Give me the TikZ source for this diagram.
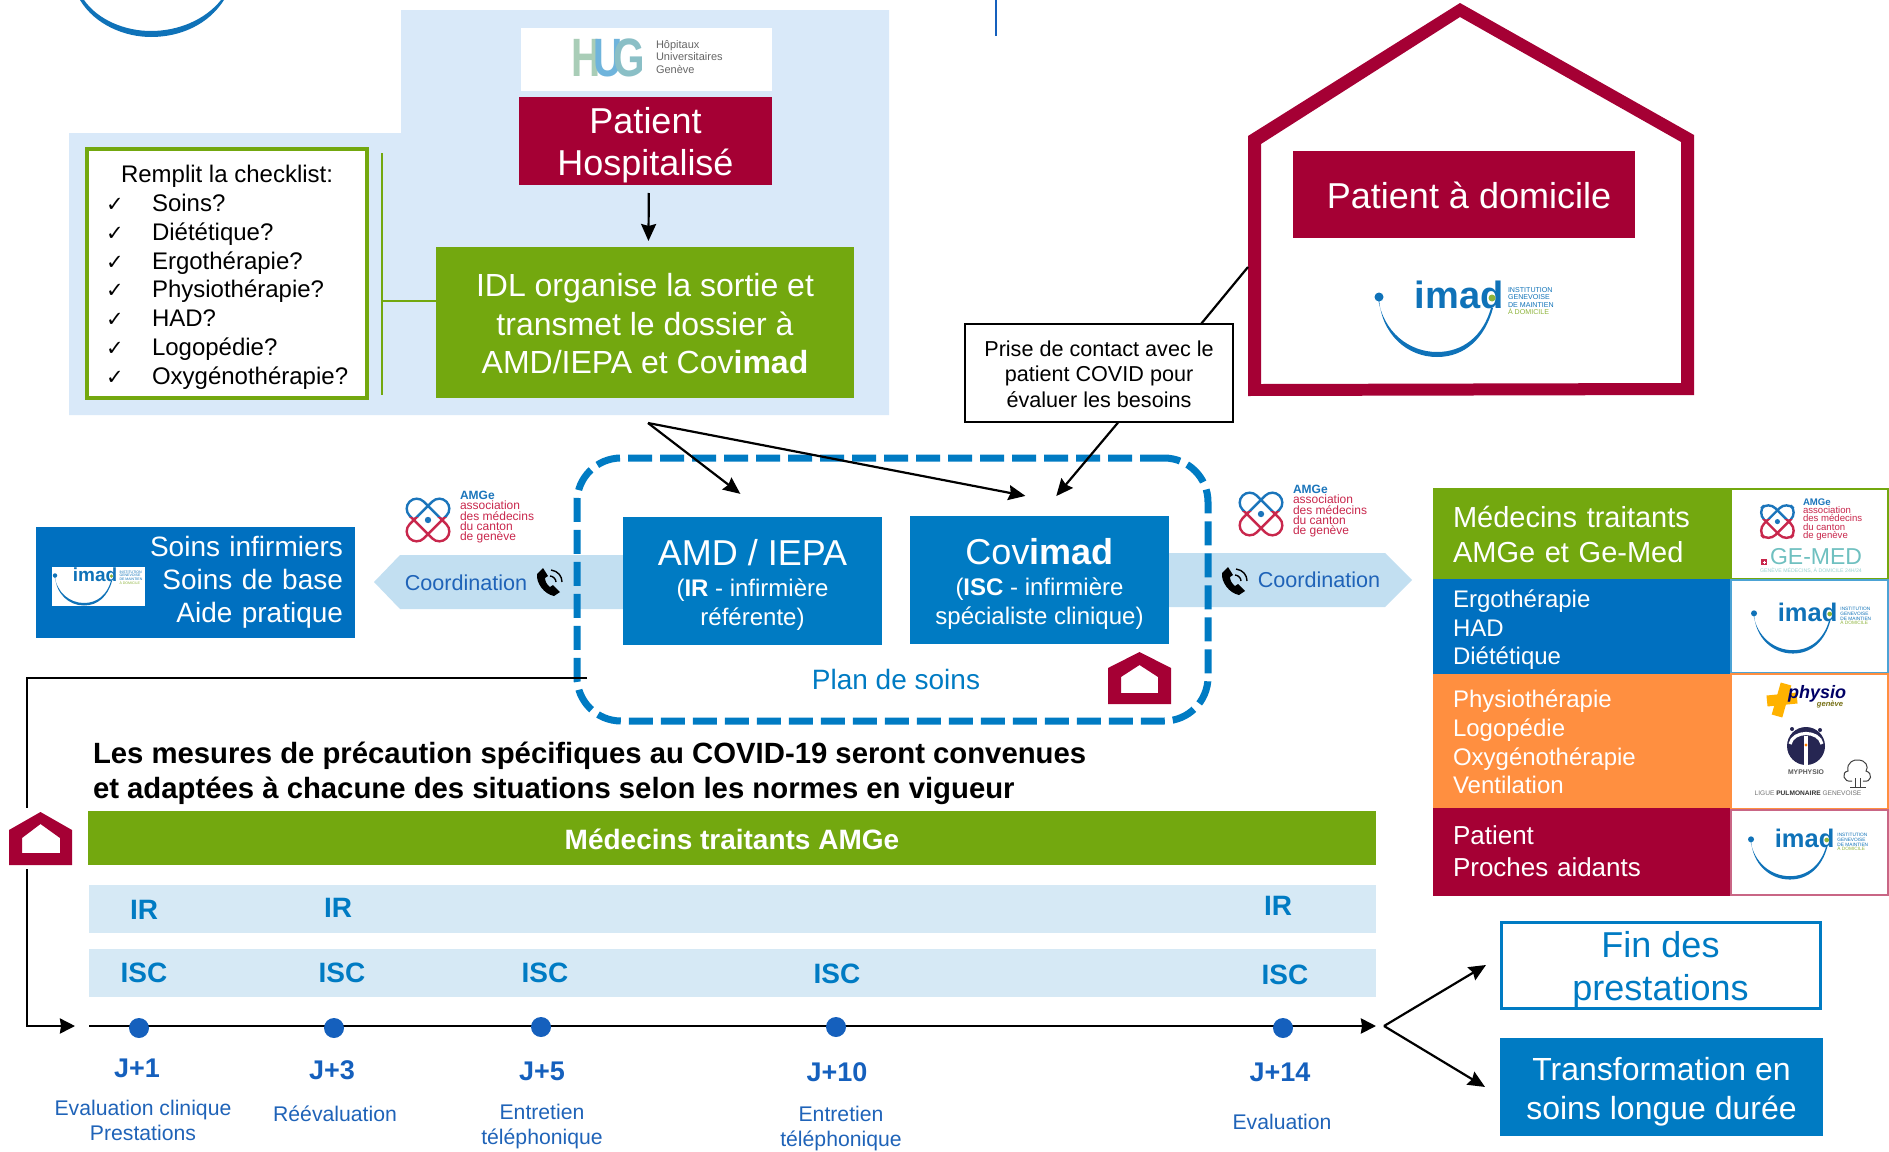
\documentclass[tikz,border=0pt]{standalone}
\usepackage{fontspec}
\usepackage{graphicx}
\setmainfont{Liberation Sans}
\newfontfamily\dvfont{DejaVu Sans}
\usetikzlibrary{arrows.meta,calc}
\definecolor{hugred}{HTML}{A50034}
\definecolor{grn}{HTML}{73A80F}
\definecolor{blueA}{HTML}{007BC3}
\definecolor{blueB}{HTML}{0070C0}
\definecolor{lightA}{HTML}{D9E9F9}
\definecolor{lightC}{HTML}{C2DFF1}
\definecolor{band}{HTML}{D6E9F5}
\definecolor{navy}{HTML}{1F63B8}
\definecolor{dotblue}{HTML}{1560BD}
\definecolor{orng}{HTML}{FF8F40}
\definecolor{amgered}{HTML}{C8274C}
\definecolor{amgeblue}{HTML}{1B75BB}
\definecolor{imadblue}{HTML}{0F72B8}
\definecolor{imadgrn}{HTML}{8DB33A}
\definecolor{hugH}{HTML}{A9CDB7}
\definecolor{hugU}{HTML}{6FB4DC}
\definecolor{hugG}{HTML}{8ABFC6}
\definecolor{gemedc}{HTML}{6FC0C0}
\newcommand\fs[2]{\fontsize{#1}{#2}\selectfont}
\tikzset{
  pxbox/.style={inner sep=0pt,outer sep=0pt,align=center,text=white},
  txt/.style={inner sep=0pt,outer sep=0pt,align=center},
  arr/.style={black,line width=1.1pt,-{Stealth[length=8.5pt,width=7.5pt,inset=1pt]}},
  heavy/.style={black,line width=1.4pt,-{Stealth[length=7.5pt,width=7.5pt,inset=0.5pt]}},
  rowtext/.style={align=left,text width=129pt},
  logocell/.style={fill=white,draw=#1,line width=.6pt},
  jlabel/.style={txt,text=dotblue,font=\bfseries\fs{13.5}{16}},
  desc/.style={txt,text=navy,font=\fs{10.6}{12.5}},
  staff/.style={txt,text=blueA,font=\bfseries\fs{14}{17}},
  coordtext/.style={txt,text=navy,font=\fs{10.8}{13}},
  tick/.style={txt,anchor=base,font=\dvfont\fs{10.5}{13}},
  chkline/.style={txt,anchor=base west,font=\fs{12}{14.4}},
}
% a box given by its pixel corners, with its text in a second node [dy]{name}{x1}{y1}{x2}{y2}{box}{text style}{text}
\newcommand\pxnode[9][0]{\node[pxbox,minimum width={(#5-#3)*0.5pt},minimum height={(#6-#4)*0.5pt},#7] (#2) at ({(#3+#5)/2},{(#4+#6)/2}) {};
  \node[pxbox,#8] (#2T) at ({(#3+#5)/2},{(#4+#6)/2+#1}) {#9};}
\newcommand\housemark[9]{\fill[hugred,even odd rule] ({#1},{#4}) -- ({(#1+#2)/2},{#3}) -- ({#2},{#4}) -- ({#2},{#5}) -- ({#1},{#5}) -- cycle
  ({#6},{#9}) -- ({#6},{\hsh}) -- ({(#1+#2)/2},{#8}) -- ({#7},{\hsh}) -- ({#7},{#9}) -- cycle;}
\newcommand\phoneicon[2]{\begin{scope}[shift={(#1,#2)}]
  \fill[black] (1,6) .. controls (0,15) and (8,26) .. (18,28) -- (24,24) -- (17,17) -- (14,19) .. controls (11,17) and (9,13) .. (9,10) -- (12,8) -- (7,0) -- cycle;
  \draw[black,line width=.7pt] (14,8) .. controls (17,8) and (20,11) .. (20,14);
  \draw[black,line width=.7pt] (15,2) .. controls (22,3) and (26,8) .. (26,14);
\end{scope}}
\newcommand\imadlogo[4]{\begin{scope}[shift={(#2,#3)},scale=#4,every node/.append style={transform shape}]
  \fill[imadblue] (0,0) .. controls (2,36) and (28,59) .. (58,59) .. controls (86,59) and (106,40) .. (114,10) -- (112,10) .. controls (104,38) and (84,54) .. (58,54) .. controls (30,54) and (4,34) .. (-1,0) -- cycle;
  \fill[imadblue] (0,-1) circle[radius=4.5];
  \node[txt,text=imadblue,font=\bfseries\fs{19}{20}] (#1w) at (80,-3) {imad};
  \fill[imadgrn] (113,0) circle[radius=3.5];
  \node[txt,align=left,anchor=west,text=imadblue,font=\fs{3.55}{3.65}] (#1t) at (129,3) {INSTITUTION\\GENEVOISE\\DE MAINTIEN\\\textcolor{imadgrn}{À DOMICILE}};
\end{scope}}
\newcommand\amgelogo[4]{\begin{scope}[shift={(#2,#3)},scale=#4,every node/.append style={transform shape}]
  \begin{scope}
    \clip (-4,-4) rectangle (50,19);
    \draw[amgeblue,line width=1.2pt,rotate around={45:(23,22)},rounded corners=5pt] (-3,12) rectangle (49,32);
    \draw[amgeblue,line width=1.2pt,rotate around={-45:(23,22)},rounded corners=5pt] (-3,12) rectangle (49,32);
  \end{scope}
  \begin{scope}
    \clip (-4,19) rectangle (50,50);
    \draw[amgered,line width=1.2pt,rotate around={45:(23,22)},rounded corners=5pt] (-3,12) rectangle (49,32);
    \draw[amgered,line width=1.2pt,rotate around={-45:(23,22)},rounded corners=5pt] (-3,12) rectangle (49,32);
  \end{scope}
  \fill[amgeblue] (23,22) circle[radius=3.2];
  \node[txt,align=left,anchor=north west,text=amgered,font=\fs{6}{5.2}] (#1t) at (55,-7) {\textcolor{amgeblue}{\textbf{AMGe}}\\association\\des médecins\\du canton\\de genève};
\end{scope}}
\begin{document}
\begin{tikzpicture}[x=0.5pt,y=-0.5pt]
\useasboundingbox (0,0) rectangle (1889,1151);

% fragments at the top of the page
\fill[imadblue] (80,0) .. controls (95,25) and (125,37) .. (151,37) .. controls (180,37) and (208,25) .. (224,0) -- (221,0) .. controls (205,20) and (178,31) .. (151,31) .. controls (125,31) and (98,20) .. (84,0) -- cycle;
\draw[dotblue,line width=1.1pt] (996,0) -- (996,36);

% hospital backdrop
\fill[lightA] (401,10) -- (889,10) -- (889,415) -- (69,415) -- (69,133) -- (401,133) -- cycle;
\pxnode{hug}{521}{28}{772}{91}{fill=white}{}{}
\node[txt,text=hugH,font=\bfseries\fs{27}{28}] (hugh) at (586,58) {\scalebox{.75}[1]{H}};
\node[txt,text=hugU,font=\bfseries\fs{27}{28}] (hugu) at (608,58) {\scalebox{.75}[1]{U}};
\node[txt,text=hugG,font=\bfseries\fs{27}{28}] (hugg) at (629,58) {\scalebox{.75}[1]{G}};
\node[txt,anchor=west,align=left,text=black!60,font=\fs{5.5}{6.2}] (hugT) at (656,57) {Hôpitaux\\Universitaires\\Genève};
\pxnode[4]{hosp}{519}{97}{772}{185}{fill=hugred}{font=\fs{18}{21}}{Patient\\Hospitalisé}
\pxnode[1.2]{idl}{436}{247}{854}{398}{fill=grn}{font=\fs{16}{19.25}}{IDL organise la sortie et\\transmet le dossier à\\AMD/IEPA et Cov\textbf{imad}}
\draw[arr,shorten <=4pt,shorten >=3pt] ([xshift=1.7pt]hosp.south) -- ([xshift=1.7pt]idl.north);

% checklist
\pxnode{check}{87}{149}{367}{398}{fill=white,draw=grn,line width=1.75pt}{}{}
\node[chkline] (chk0) at (121,182) {Remplit la checklist:};
\foreach \n/\y/\t in {1/211/Soins?,2/240/Diététique?,3/269/Ergothérapie?,4/297/Physiothérapie?,5/326/HAD?,6/355/Logopédie?,7/384/Oxygénothérapie?}{
  \node[tick] (tk\n) at (115,\y) {✓};
  \node[chkline] (chk\n) at (152,\y) {\t};
}
\coordinate (brT) at (382,153);
\coordinate (brB) at (382,395);
\coordinate (brM) at (382,301);
\draw[grn,line width=1.1pt] (brT) -- (brB);
\draw[grn,line width=1.1pt] (brM) -- (idl.west |- brM);

% home
\fill[hugred,even odd rule] (1460,3) -- (1694,135) -- (1694,395) -- (1248,396) -- (1248,136) -- cycle
  (1460,17) -- (1261,144) -- (1261,384) -- (1681,383) -- (1681,142) -- cycle;
\pxnode[1]{home}{1293}{151}{1635}{238}{fill=hugred}{xshift=2.5pt,font=\fs{18}{21}}{Patient à domicile}
\imadlogo{imH}{1379}{298}{1}
\coordinate (houseL) at (1248,267);
\pxnode[1]{info}{965}{324}{1233}{422}{fill=white,draw=black,line width=.75pt}{text=black,font=\fs{10.8}{12.75}}{Prise de contact avec le\\patient COVID pour\\évaluer les besoins}
\draw[black,line width=1.1pt] ([xshift=51pt]info.north) -- (houseL);

% coordination arrows
\fill[lightC] (374,582) -- (400,555) -- (624,555) -- (624,609) -- (400,609) -- cycle;
\fill[lightC] (1168,553) -- (1385,553) -- (1412,580) -- (1385,607) -- (1168,607) -- cycle;
\node[coordtext] (coL) at (466,583) {Coordination};
\node[coordtext] (coR) at (1319,580) {Coordination};
\phoneicon{536}{568}
\phoneicon{1221}{567}
\amgelogo{amL}{405}{498}{1}
\amgelogo{amR}{1238}{492}{1}

% plan de soins
\pxnode{plan}{577}{458}{1208}{721}{draw=blueA,line width=3.5pt,dash pattern=on 12pt off 4pt,rounded corners=22pt}{}{}
\node[txt,text=blueA,font=\fs{14}{17}] (plantxt) at (896,679) {Plan de soins};
\pxnode[3.6]{amd}{623}{517}{882}{645}{fill=blueA}{font=\fs{12}{14.5}}{\fs{18}{18}AMD / IEPA\\[1pt](\textbf{IR} - infirmière\\référente)}
\pxnode[3.6]{cov}{910}{516}{1169}{644}{fill=blueA}{font=\fs{12}{14.5}}{\fs{18}{18}Cov\textbf{imad}\\[1pt](\textbf{ISC} - infirmière\\spécialiste clinique)}
\def\hsh{677}
\housemark{1108}{1171}{652}{668}{704}{1121}{1158}{665}{693}

% connectors into the plan
\coordinate (src) at (648,423);
\draw[arr,shorten >=19pt] (src) -- ([xshift=9pt]amd.north);
\draw[arr,shorten >=53pt] (src) -- ([xshift=45pt]cov.north);
\draw[arr,shorten >=13pt] ([xshift=9.75pt]info.south) -- (cov.north);

% left box
\pxnode{soins}{36}{527}{355}{638}{fill=blueB}{align=right,text width=147.5pt,font=\fs{14}{16.5}}{Soins infirmiers\\Soins de base\\Aide pratique}
\pxnode{soinsLogo}{52}{567}{145}{606}{fill=white}{}{}
\imadlogo{imS}{55}{576}{.5}

% patient line
\coordinate (lineStart) at (587,678);
\coordinate (turnA) at (27,678);
\coordinate (turnB) at (27,1026);
\coordinate (tlIn) at (75,1026);
\draw[black,line width=1.25pt,-{Stealth[length=7.5pt,width=7.5pt,inset=0.5pt]}] (lineStart) -- (turnA) -- (turnB) -- (tlIn);
\fill[white] (5,808) rectangle (76,869);
\def\hsh{838}
\housemark{9}{72}{812}{830}{865}{22}{60}{824}{853}

% precautions
\node[txt,anchor=west,align=left,text=black,font=\bfseries\fs{14.65}{17.6}] (mesures) at (93,773.5) {Les mesures de précaution spécifiques au COVID-19 seront convenues\\et adaptées à chacune des situations selon les normes en vigueur};

% bands
\pxnode[1]{amge}{88}{811}{1376}{865}{fill=grn}{font=\bfseries\fs{14}{17}}{Médecins traitants AMGe}
\pxnode{bandIR}{89}{885}{1376}{933}{fill=band}{}{}
\pxnode{bandISC}{89}{949}{1376}{997}{fill=band}{}{}
\node[staff] (ir1) at (144,910) {IR};
\node[staff] (ir2) at (338,908) {IR};
\node[staff] (ir3) at (1278,906) {IR};
\node[staff] (isc1) at (144,973) {ISC};
\node[staff] (isc2) at (342,973) {ISC};
\node[staff] (isc3) at (545,973) {ISC};
\node[staff] (isc4) at (837,974) {ISC};
\node[staff] (isc5) at (1285,975) {ISC};

% timeline
\coordinate (tlStart) at (89,1026);
\coordinate (tlEnd) at (1376,1026);
\draw[heavy] (tlStart) -- (tlEnd);
\foreach \x/\y in {139/1028,334/1028,541/1027,836/1027,1283/1028}{
  \fill[dotblue] (\x,\y) circle[radius=10];
}
\node[jlabel] (j1) at (137,1068) {J+1};
\node[jlabel] (j3) at (332,1070) {J+3};
\node[jlabel] (j5) at (542,1071) {J+5};
\node[jlabel] (j10) at (837,1072) {J+10};
\node[jlabel] (j14) at (1280,1072) {J+14};
\node[desc] (d1) at (143,1120.5) {Evaluation clinique\\Prestations};
\node[desc] (d3) at (335,1114) {Réévaluation};
\node[desc] (d5) at (542,1126.5) {Entretien\\téléphonique};
\node[desc] (d10) at (841,1129) {Entretien\\téléphonique};
\node[desc] (d14) at (1282,1122) {Evaluation};

% outcomes
\pxnode[4.5]{fin}{1501}{922}{1820}{1008}{fill=white,draw=blueA,line width=1.5pt}{text=blueA,font=\fs{18}{21.5}}{Fin des\\prestations}
\pxnode[4.5]{trans}{1500}{1038}{1823}{1136}{fill=blueA}{font=\fs{16}{19.5}}{Transformation en\\soins longue durée}
\coordinate (fork) at (1384,1026);
\draw[arr,shorten >=8.75pt] (fork) -- ([yshift=4.5pt]fin.west);
\draw[arr,shorten >=8.75pt] (fork) -- ([yshift=-4.5pt]trans.west);

% table
\pxnode[1]{rowA}{1433}{488}{1731}{579}{fill=grn}{rowtext,font=\fs{14.5}{17.5}}{Médecins traitants\\AMGe et Ge-Med}
\pxnode[3.5]{rowB}{1433}{579}{1731}{674}{fill=blueB}{rowtext,font=\fs{12}{14.25}}{Ergothérapie\\HAD\\Diététique}
\pxnode[1]{rowC}{1433}{674}{1731}{808}{fill=orng}{rowtext,font=\fs{12}{14.4}}{Physiothérapie\\Logopédie\\Oxygénothérapie\\Ventilation}
\pxnode[-1]{rowD}{1433}{808}{1731}{896}{fill=hugred}{rowtext,font=\fs{13}{16}}{Patient\\Proches aidants}
\pxnode{cellA}{1731}{489}{1888}{579}{logocell=grn}{}{}
\pxnode{cellB}{1731}{580}{1888}{673}{logocell=blueA!70!white}{}{}
\pxnode{cellC}{1731}{674}{1888}{809}{logocell=orng}{}{}
\pxnode{cellD}{1731}{810}{1888}{895}{logocell=hugred!60!white}{}{}
\amgelogo{amC}{1759}{504}{.8}
\node[txt,text=gemedc,font=\fs{11.5}{12}] (gemed) at (1816,557) {GE-MED};
\fill[amgered] (1761,559) rectangle (1767,565);
\draw[white,line width=.3pt] (1762.5,562) -- (1765.5,562) (1764,560.5) -- (1764,563.5);
\node[txt,text=gemedc!70!white,font=\fs{2.6}{3}] (gemedT) at (1811,571) {GENÈVE MÉDECINS, À DOMICILE 24H/24};
\imadlogo{imB}{1754}{614}{.67}
\imadlogo{imD}{1751}{840}{.67}
% physio
\draw[orange!60!yellow,line width=5.5pt] (1786,684) -- (1777,716);
\draw[orange!60!yellow,line width=5.5pt] (1767,701) -- (1797,698);
\node[txt,text=blue!40!black,font=\bfseries\itshape\fs{9}{10}] (phys) at (1817,694) {physio};
\node[txt,text=olive!80!black,font=\bfseries\itshape\fs{3.8}{4}] (physg) at (1830,704) {genève};
\fill[blue!20!black!85] (1806,746) circle[radius=19];
\draw[white,line width=1.6pt] (1790,744) .. controls (1793,730) and (1819,730) .. (1822,744);
\draw[white,line width=1.8pt] (1806,736) -- (1806,765);
\fill[orange] (1806,745) circle[radius=1.6];
\fill[blue!20!black!85] (1792,729) circle[radius=2];
\fill[blue!20!black!85] (1820,730) circle[radius=2];
\node[txt,text=black!65,font=\bfseries\fs{3.4}{4}] (myp) at (1806,772) {MYPHYSIO};
\draw[black!75,line width=.5pt] (1852,781) .. controls (1843,783) and (1841,772) .. (1848,771) .. controls (1846,762) and (1855,759) .. (1858,760) .. controls (1866,760) and (1869,767) .. (1866,771) .. controls (1873,773) and (1872,783) .. (1863,781);
\draw[black!75,line width=.5pt] (1855,778) -- (1855,787) (1860,778) -- (1860,787) (1850,787) -- (1866,787);
\node[txt,text=black!55,font=\fs{3.3}{4}] (ligue) at (1808,793) {LIGUE \textcolor{black!80}{\textbf{PULMONAIRE}} GENEVOISE};
\end{tikzpicture}
\end{document}
